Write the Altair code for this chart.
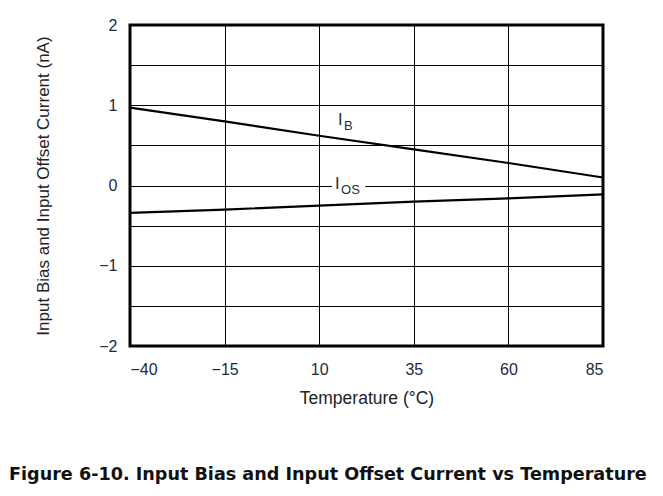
import altair as alt
import pandas as pd

# Values
temps = [-40, -15, 10, 35, 60, 85]
ib_values = [0.97, 0.80, 0.62, 0.45, 0.28, 0.10]
ios_values = [-0.34, -0.30, -0.25, -0.20, -0.16, -0.11]
x_ticks = [-40, -15, 10, 35, 60, 85]
y_grid = [-2, -1.5, -1, -0.5, 0, 0.5, 1, 1.5, 2]

label_names = ["I", "I"]
label_subs = ["B", "OS"]
label_x = [15.0, 14.2]
label_y = [0.81, 0.02]

FONT = "Liberation Sans"
TXT = "#1e2a3c"

df = pd.DataFrame({
    "t": temps * 2,
    "v": ib_values + ios_values,
    "series": ["IB"] * len(temps) + ["IOS"] * len(temps),
})

x_scale = alt.Scale(domain=[-40, 85], nice=False, zero=False)
y_scale = alt.Scale(domain=[-2, 2], nice=False, zero=False)

x_axis = alt.Axis(
    values=x_ticks, title="Temperature (°C)", grid=True, gridColor="black",
    gridWidth=1, gridOpacity=1, domain=False, ticks=False, labelPadding=15,
    labelFontSize=16, labelFont=FONT, labelColor=TXT,
    labelExpr="replace(format(datum.value, 'd'), '-', '–')",
    titleFont=FONT, titleFontSize=17.5, titleFontWeight="normal", titleColor="#222",
    titlePadding=12,
)
y_axis = alt.Axis(
    values=y_grid, title="Input Bias and Input Offset Current (nA)", grid=True,
    gridColor="black", gridWidth=1, gridOpacity=1, domain=False, ticks=False,
    labelPadding=13, labelFontSize=16, labelFont=FONT, labelColor=TXT,
    labelExpr="datum.value % 1 == 0 ? replace(format(datum.value, 'd'), '-', '–') : ''",
    titleFont=FONT, titleFontSize=17, titleFontWeight="normal", titleColor="#222",
    titlePadding=46,
)

lines = alt.Chart(df).mark_line(color="black", strokeWidth=2.2).encode(
    x=alt.X("t:Q", scale=x_scale, axis=x_axis),
    y=alt.Y("v:Q", scale=y_scale, axis=y_axis),
    detail="series:N",
)

lab = pd.DataFrame({"name": label_names, "sub": label_subs, "x": label_x, "y": label_y})

# white gap behind the IOS label on the zero grid line
gap = alt.Chart(lab.iloc[[1]]).mark_rect(color="white").encode(
    x=alt.X("x1:Q", scale=x_scale),
    x2="x2:Q",
    y=alt.Y("y1:Q", scale=y_scale),
    y2="y2:Q",
).transform_calculate(
    x1="datum.x - 0.8", x2="datum.x + 8.0", y1="-0.07", y2="0.07"
)

main_txt = alt.Chart(lab).mark_text(
    align="left", baseline="middle", fontSize=16.5, font=FONT, color=TXT
).encode(
    x=alt.X("x:Q", scale=x_scale),
    y=alt.Y("y:Q", scale=y_scale),
    text="name:N",
)
sub_txt = alt.Chart(lab).mark_text(
    align="left", baseline="middle", fontSize=13, font=FONT, color=TXT, dx=6, dy=6
).encode(
    x=alt.X("x:Q", scale=x_scale),
    y=alt.Y("y:Q", scale=y_scale),
    text="sub:N",
)

chart = alt.layer(gap, lines, main_txt, sub_txt).properties(
    width=473,
    height=321,
    autosize=alt.AutoSizeParams(type="none"),
    padding={"left": 122, "top": 17, "right": 52, "bottom": 150},
    title=alt.TitleParams(
        "Figure 6-10. Input Bias and Input Offset Current vs Temperature",
        orient="bottom", anchor="start", frame="group", dx=-121, offset=59,
        font="DejaVu Sans", fontSize=17.6, fontWeight="bold", color="#111",
    ),
).configure_view(
    stroke="black", strokeWidth=3
)

chart.save("out.html", embed_options={"renderer": "svg", "actions": False})
